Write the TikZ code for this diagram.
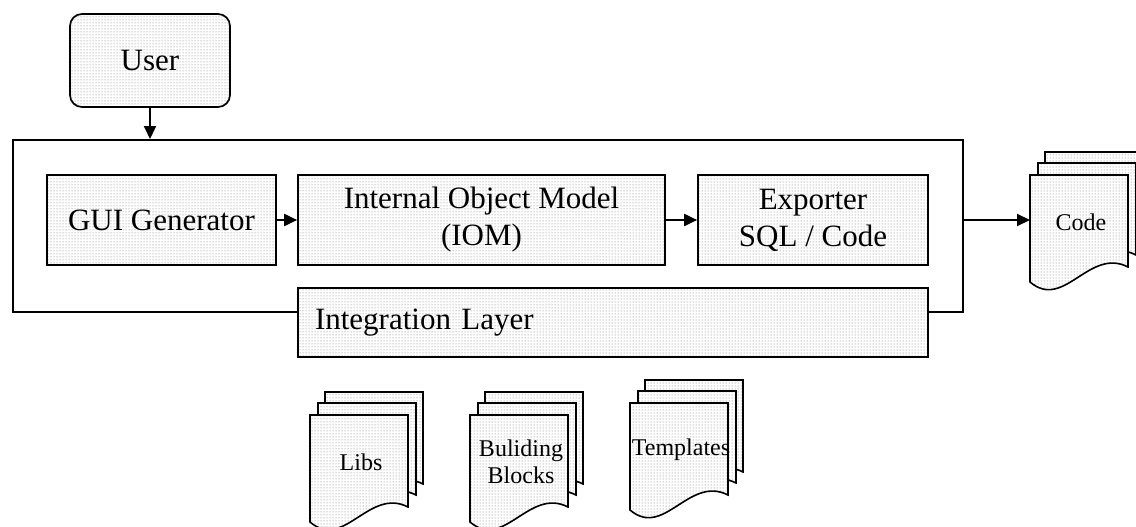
\documentclass[tikz,border=0pt]{standalone}
\usepackage{fontspec}
\setmainfont{Liberation Serif}
\usetikzlibrary{arrows.meta,patterns,positioning}

\tikzset{
  halftone/.style={preaction={fill=white}, pattern=dots, pattern color=black!55},
  block/.style={draw, line width=1.7pt, halftone, minimum height=90pt, inner sep=0pt,
    align=center, font=\fontsize{31}{37}\selectfont},
  link/.style={line width=2pt, -{Triangle[length=13pt,width=12pt]}},
  sheet/.style={draw, line width=1.6pt, halftone},
  sheet label/.style={align=center, font=\fontsize{24}{29}\selectfont},
}

% one page with a wavy lower edge, top left corner at (#1,#2)
\newcommand{\docsheet}[2]{%
  \draw[sheet, shift={(#1,#2)}] (0,0) -- (98,0) -- (98,92)
    .. controls (59,72) and (34,136) .. (0,107) -- cycle;}

% three stacked pages: name, front page corner, label
\newcommand{\docstack}[4]{%
  \docsheet{#2+15}{#3-23}
  \docsheet{#2+8}{#3-12}
  \docsheet{#2}{#3}
  \coordinate (#1 sheet) at (#2,#3+45);
  \node[sheet label] (#1) at (#2+51,#3+47) {#4};}

\begin{document}
\begin{tikzpicture}[x=1pt,y=-1pt]
	\useasboundingbox (0,0) rectangle (1136,527);
	% Frame and blocks:
	\node[draw, line width=2pt, minimum width=950pt, minimum height=172pt, inner sep=0pt] (core) at (488,226){};
	\node[block, rounded corners=12pt, minimum width=160pt, minimum height=93pt] (user) at (150,60.5){User};
	\node[block, minimum width=229pt] (gui) at (161.5,220){GUI Generator};
	\node[block, minimum width=367pt] (iom) at (481.5,220){Internal Object Model\\(IOM)};
	\node[block, minimum width=230pt] (exporter) at (813,220){Exporter\\SQL / Code};
	\node[block, minimum width=630pt, minimum height=69pt, text width=596pt, align=left] (integration) at (613,322.5){Integration Layer};
	% Page stacks:
	\docstack{code}{1030}{175}{Code}
	\docstack{libs}{310}{415}{Libs}
	\docstack{blocks}{470}{415}{Buliding\\[-2pt]Blocks}
	\docstack{templates}{630}{403}{Templates}
	% Arrows:
	\draw[link] (user.south) -- (user.south |- core.north);
	\draw[link] (gui) -- (iom);
	\draw[link] (iom) -- (exporter);
	\draw[link] (core.east |- code sheet) -- (code sheet);
\end{tikzpicture}
\end{document}
